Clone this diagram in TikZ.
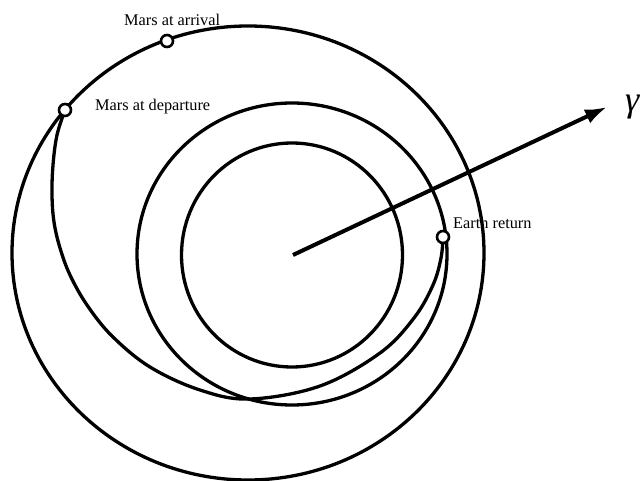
\documentclass[tikz,border=0pt]{standalone}
\usepackage{fontspec}
\setmainfont{Liberation Serif}
\usetikzlibrary{arrows.meta}
\tikzset{
  orbit/.style={line width=3.3pt},
  marker/.style={circle,draw,fill=white,line width=2.6pt,inner sep=0pt,minimum size=12pt},
  lbl/.style={anchor=base west,inner sep=0pt,font=\fontsize{16.3}{19}\selectfont},
  axisarrow/.style={line width=4pt,-{Latex[length=22pt,width=15pt]}}
}
\begin{document}
\begin{tikzpicture}[x=1pt,y=-1pt]
\useasboundingbox (0,0) rectangle (642,481);
% orbits
\draw[orbit] (248,253) ellipse [x radius=236, y radius=227];
\draw[orbit] (292,254) ellipse [x radius=155, y radius=151];
\draw[orbit] (292,255) ellipse [x radius=110.5, y radius=112];
% marker positions
\coordinate (pdep) at (65,110);
\coordinate (parr) at (167,41);
\coordinate (pret) at (443,237);
% transfer trajectory
\draw[orbit] plot[smooth,tension=0.6] coordinates {(65,110) (57,135) (53,165) (52,195) (54,222) (60,248) (70,275) (87,305) (112,336) (150,367) (200,390) (250,399) (320,386) (380,353) (414,318) (433,285) (441,258) (443,237)};
% axis arrow
\coordinate (sun) at (293,255);
\coordinate (tip) at (607,107);
\draw[axisarrow] (sun) -- (tip);
\node[anchor=base west,inner sep=0pt,font=\fontsize{36}{42}\selectfont\itshape] (gam) at (625,112) {γ};
% markers
\node[marker] (mdep) at (pdep) {};
\node[marker] (marr) at (parr) {};
\node[marker] (eret) at (pret) {};
% labels
\node[lbl] (tarr) at (124,26) {Mars at arrival};
\node[lbl] (tdep) at (95,111) {Mars at departure};
\node[lbl] (tret) at (453,228) {Earth return};
\end{tikzpicture}
\end{document}
